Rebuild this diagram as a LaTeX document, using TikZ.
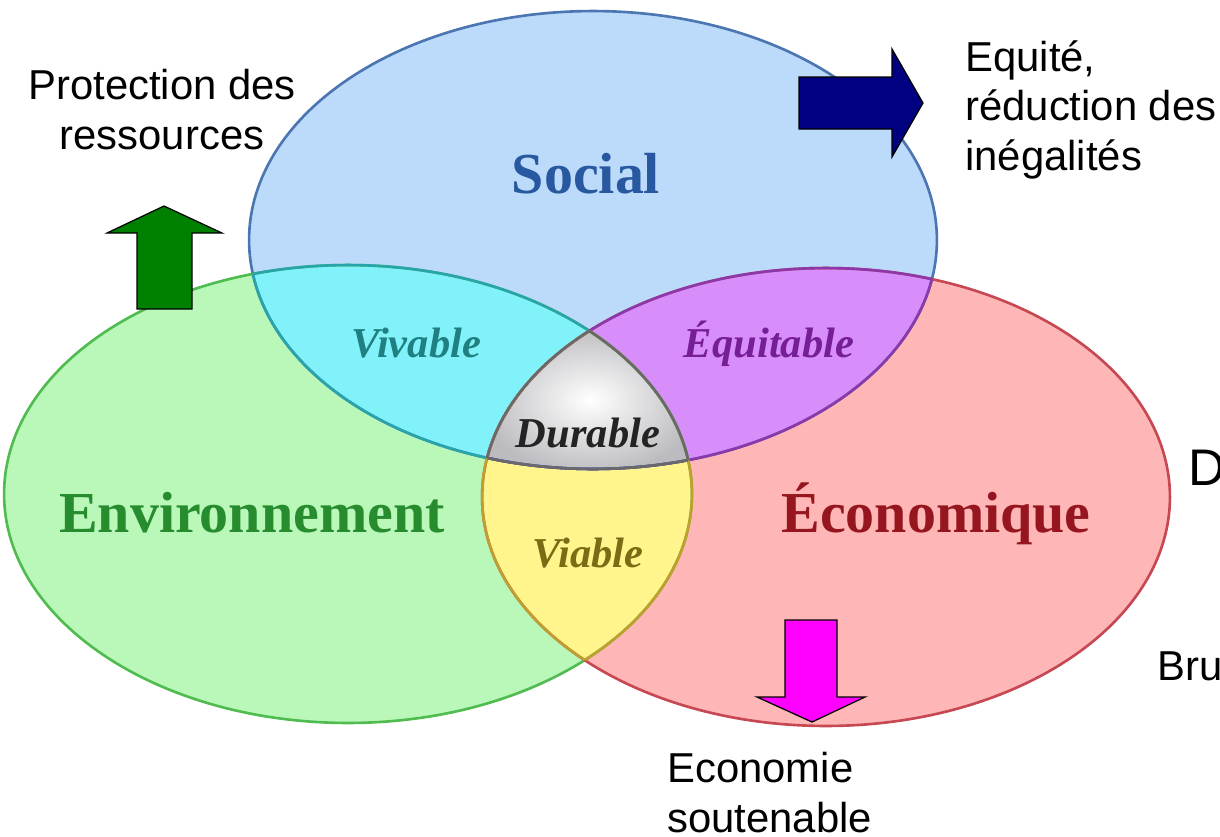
\documentclass[tikz,border=0pt]{standalone}
\usepackage{fontspec}
\setmainfont{Liberation Serif}
\setsansfont{Liberation Sans}
\usetikzlibrary{positioning}

\definecolor{socialFill}{RGB}{188,218,250}
\definecolor{socialLine}{RGB}{75,118,178}
\definecolor{envFill}{RGB}{185,248,185}
\definecolor{envLine}{RGB}{80,188,80}
\definecolor{ecoFill}{RGB}{255,182,182}
\definecolor{ecoLine}{RGB}{198,72,82}
\definecolor{vivFill}{RGB}{130,242,250}
\definecolor{vivLine}{RGB}{40,165,170}
\definecolor{equFill}{RGB}{215,142,250}
\definecolor{equLine}{RGB}{140,55,170}
\definecolor{viaFill}{RGB}{255,245,140}
\definecolor{viaLine}{RGB}{192,160,45}
\definecolor{durFill}{RGB}{188,188,192}
\definecolor{durLine}{RGB}{105,105,105}
\definecolor{socialText}{RGB}{40,88,160}
\definecolor{envText}{RGB}{38,140,45}
\definecolor{ecoText}{RGB}{150,22,32}
\definecolor{vivText}{RGB}{30,128,128}
\definecolor{equText}{RGB}{118,30,150}
\definecolor{durText}{RGB}{35,35,35}
\definecolor{viaText}{RGB}{120,108,20}
\definecolor{arrowNavy}{RGB}{0,0,128}
\definecolor{arrowGreen}{RGB}{0,128,0}
\definecolor{arrowPink}{RGB}{255,0,255}

\begin{document}
\begin{tikzpicture}[x=0.02cm, y=-0.02cm,
  rim/.style={line width=1.5pt},
  bigLabel/.style={font=\bfseries\fontsize{33}{40}\selectfont, anchor=base, inner sep=0pt},
  smallLabel/.style={font=\bfseries\itshape\fontsize{24.2}{29}\selectfont, anchor=base, inner sep=0pt},
  noteText/.style={font=\sffamily\fontsize{23.8}{28.35}\selectfont, inner sep=0pt},
  arrowShape/.style={draw=black, line width=0.7pt}]

% General parameters
\def\rx{6.88cm}     % Horizontal radius of each set
\def\ry{4.58cm}     % Vertical radius of each set

\useasboundingbox (0,0) rectangle (1220,836);

% Centres of the three sets
\coordinate (social) at (593,240);
\coordinate (env) at (348,494);
\coordinate (eco) at (826,497);

% Plain fills
\foreach \s/\c in {social/socialFill, env/envFill, eco/ecoFill}
  \fill[\c] (\s) ellipse [x radius=\rx, y radius=\ry];

% Pairwise overlaps
\foreach \a/\b/\c in {social/env/vivFill, social/eco/equFill, env/eco/viaFill} {
  \begin{scope}
    \clip (\a) ellipse [x radius=\rx, y radius=\ry];
    \fill[\c] (\b) ellipse [x radius=\rx, y radius=\ry];
  \end{scope}
}

% Centre part, shaded
\begin{scope}
  \clip (social) ellipse [x radius=\rx, y radius=\ry];
  \clip (env) ellipse [x radius=\rx, y radius=\ry];
  \clip (eco) ellipse [x radius=\rx, y radius=\ry];
  \fill[durFill] (450,300) rectangle (730,480);
  \shade[inner color=white, outer color=durFill] (590,400) ellipse [x radius=2.2cm, y radius=1.5cm];
\end{scope}

% Outlines
\foreach \s/\c in {social/socialLine, env/envLine, eco/ecoLine}
  \draw[\c, rim] (\s) ellipse [x radius=\rx, y radius=\ry];

% Outline parts lying inside an other set
\foreach \e/\f/\c in {env/social/vivLine, social/env/vivLine, social/eco/equLine,
                      eco/social/equLine, env/eco/viaLine, eco/env/viaLine} {
  \begin{scope}
    \clip (\f) ellipse [x radius=\rx, y radius=\ry];
    \draw[\c, rim] (\e) ellipse [x radius=\rx, y radius=\ry];
  \end{scope}
}
\foreach \e/\f/\g in {social/env/eco, env/social/eco, eco/social/env} {
  \begin{scope}
    \clip (\f) ellipse [x radius=\rx, y radius=\ry];
    \clip (\g) ellipse [x radius=\rx, y radius=\ry];
    \draw[durLine, rim] (\e) ellipse [x radius=\rx, y radius=\ry];
  \end{scope}
}

% Names of the sets
\node[bigLabel, text=socialText] (label-social) at (586,193) {Social};
\node[bigLabel, text=envText] (label-env) at (252,532) {Environnement};
\node[bigLabel, text=ecoText] (label-eco) at (936,532) {Économique};

% Names of the overlaps
\node[smallLabel, text=vivText] (label-viv) at (416,357) {Vivable};
\node[smallLabel, text=equText] (label-equ) at (769,357) {Équitable};
\node[smallLabel, text=durText] (label-dur) at (588,447) {Durable};
\node[smallLabel, text=viaText] (label-via) at (588,567) {Viable};

% Block arrows
\filldraw[arrowShape, fill=arrowNavy] (799,77) -- (892,77) -- (892,49) -- (923,103)
  -- (892,157) -- (892,129) -- (799,129) -- cycle;
\filldraw[arrowShape, fill=arrowGreen] (137,309) -- (137,233) -- (107,233) -- (164,206)
  -- (222,233) -- (192,233) -- (192,309) -- cycle;
\filldraw[arrowShape, fill=arrowPink] (785,620) -- (837,620) -- (837,697) -- (865,697)
  -- (812,722) -- (757,697) -- (785,697) -- cycle;

% Side notes
\node[noteText, align=center, anchor=north] (note-res) at (162,69) {Protection des\\ressources};
\node[noteText, align=left, anchor=north west] (note-equ) at (965,40) {Equité,\\réduction des\\inégalités};
\node[noteText, align=left, anchor=north west] (note-eco) at (667,752) {Economie\\soutenable};
\node[noteText, font=\sffamily\fontsize{29.3}{35}\selectfont, anchor=base west] (note-d) at (1188,485) {D};
\node[noteText, anchor=base west] (note-bru) at (1157,680) {Bru};

\end{tikzpicture}
\end{document}
